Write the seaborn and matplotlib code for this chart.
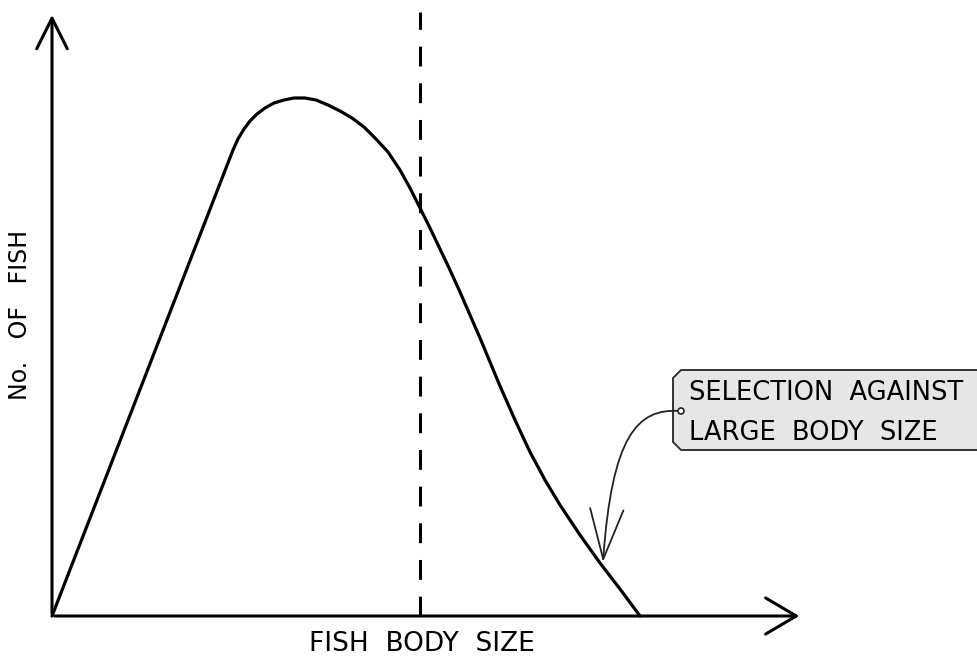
import numpy as np
import pandas as pd
import matplotlib
matplotlib.use("Agg")
import matplotlib.pyplot as plt
import seaborn as sns
from matplotlib.path import Path
from matplotlib.patches import FancyArrowPatch, Polygon, Circle

# curve (x = body size, y = number of fish, arbitrary units)
body_size = [0, 181, 186, 192, 198, 205, 213, 222, 232, 242, 253, 264, 276,
             288, 300, 312, 324, 336, 348, 358, 368, 378, 388, 398, 408, 418,
             428, 438, 448, 463, 478, 493, 508, 528, 548, 568, 588]
fish_count = [0, 466, 477, 487, 495, 502, 508, 513, 516, 518, 518, 516, 511,
              505, 498, 489, 477, 464, 446, 428, 408, 388, 367, 346, 324, 301,
              278, 254, 230, 196, 164, 136, 111, 81, 53, 27, 0]
cutoff = 368
x_label = "FISH  BODY  SIZE"
y_label = "No.   OF   FISH"
note_lines = ["SELECTION  AGAINST", "LARGE  BODY  SIZE"]

df = pd.DataFrame({"size": body_size, "count": fish_count})

sns.set_theme(style="white")
plt.rcParams['font.family'] = ['DejaVu Sans']

fig = plt.figure(figsize=(9.77, 6.58), dpi=100)
ax = fig.add_axes([0, 0, 1, 1])

# distribution curve
sns.lineplot(data=df, x="size", y="count", sort=False, color='black',
             lw=2.3, ax=ax)
ax.set_xlim(-52, 925)
ax.set_ylim(-42, 616)
ax.axis('off')

# axes with open arrow heads
ax.annotate("", xy=(0, 604), xytext=(0, 0),
            arrowprops=dict(arrowstyle="->,head_length=2.2,head_width=1.1",
                            lw=2.2, color='black', mutation_scale=10))
ax.annotate("", xy=(750, 0), xytext=(0, 0),
            arrowprops=dict(arrowstyle="->,head_length=2.2,head_width=1.3",
                            lw=2.2, color='black', mutation_scale=10))

# dashed selection cutoff
ax.plot([cutoff, cutoff], [0, 604], color='black', lw=2.2,
        linestyle=(0, (6.5, 5.5)))

# axis labels
ax.text(370, -35, x_label, ha='center', va='baseline', fontsize=19,
        color='black')
ax.text(-25, 301, y_label, ha='center', va='baseline', fontsize=17,
        rotation=90, rotation_mode='anchor', color='black')

# label box
bx0, bx1, by0, by1, c = 621, 960, 166, 246, 8
box = Polygon([(bx0 + c, by1), (bx1, by1), (bx1, by0), (bx0 + c, by0),
               (bx0, by0 + c), (bx0, by1 - c)],
              closed=True, facecolor='#e6e6e6', edgecolor='#333333', lw=1.4)
ax.add_patch(box)
ax.text(637, 216, note_lines[0], ha='left', va='baseline',
        fontsize=18.5, color='black')
ax.text(637, 176, note_lines[1], ha='left', va='baseline', fontsize=18.5,
        color='black')

# curved pointer
verts = [(628, 205), (585, 208), (560, 180), (551, 54)]
codes = [Path.MOVETO, Path.CURVE4, Path.CURVE4, Path.CURVE4]
arrow = FancyArrowPatch(path=Path(verts, codes),
                        arrowstyle="->,head_length=3.6,head_width=1.2",
                        mutation_scale=10, lw=1.3, color='#222222')
ax.add_patch(arrow)
ax.add_patch(Circle((629, 205), 3, facecolor='white', edgecolor='#222222',
                    lw=1.2, zorder=5))

fig.savefig("out.png", dpi=100)
